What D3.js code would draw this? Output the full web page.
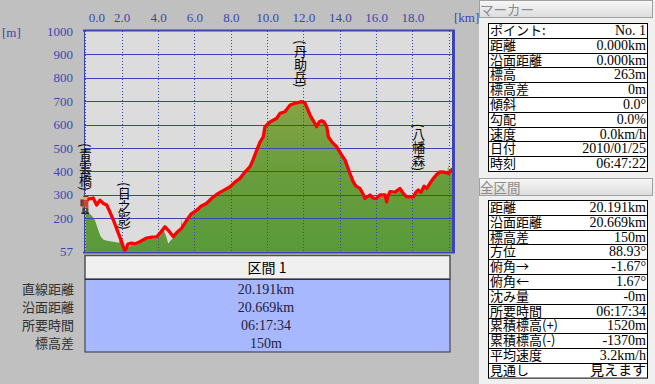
<!DOCTYPE html>
<html><head><meta charset="utf-8">
<script src="https://cdn.jsdelivr.net/npm/d3@7"></script>
<style>
html,body{margin:0;padding:0;background:#c0c0c0;}
svg{display:block;}
.num{font-family:"Liberation Serif","Noto Sans CJK JP",serif;}
.jp{font-family:"Noto Sans CJK JP","Liberation Serif",sans-serif;}
</style></head>
<body>
<svg id="c" width="655" height="384"></svg>
<script>
// ---- DATA ----
const distKm = 20.191;
const xTicks = [0,2,4,6,8,10,12,14,16,18,20];
const yTicks = [57,200,300,400,500,600,700,800,900,1000];
const gridY = [200,300,400,500,600,700,800,900];

// GPS track (red line): km, elevation m
const trackKm = [0.00,0.14,0.43,0.62,0.80,0.97,1.17,1.35,1.54,1.81,1.96,2.09,2.18,2.27,2.34,2.55,2.73,3.00,3.37,3.67,3.92,4.11,4.38,4.55,4.84,5.04,5.30,5.58,5.81,6.13,6.36,6.68,6.97,7.31,7.63,7.96,8.23,8.51,8.78,9.06,9.22,9.43,9.61,9.79,9.88,10.16,10.53,10.71,10.98,11.26,11.59,11.90,12.09,12.20,12.36,12.52,12.73,12.86,13.00,13.13,13.28,13.37,13.57,13.83,14.07,14.29,14.56,14.74,14.89,15.11,15.28,15.39,15.66,15.83,16.03,16.21,16.49,16.58,16.65,16.76,17.04,17.31,17.48,17.68,17.86,18.05,18.19,18.32,18.47,18.64,18.78,18.97,19.15,19.35,19.52,19.74,19.97,20.16,20.191];
const trackElev = [263,281,286,256,277,264,256,226,192,136,106,77,63,72,89,93,89,99,115,119,120,136,163,149,120,140,157,192,217,234,251,264,286,306,320,334,354,370,397,420,448,491,525,548,591,611,627,648,655,683,692,698,691,671,641,619,591,611,617,611,591,548,525,505,474,448,391,355,337,327,303,284,299,286,284,299,299,270,294,313,311,327,307,291,290,291,311,320,311,337,327,350,370,388,398,397,391,405,413];

// Terrain profile (green area): km, elevation m
const terrainKm = [0.00,0.15,0.35,0.50,0.62,0.75,0.85,1.00,1.20,1.45,1.70,1.85,1.93,1.98,2.10,2.25,2.40,2.55,2.75,3.00,3.35,3.70,3.95,4.15,4.30,4.45,4.56,4.70,4.84,5.05,5.25,5.30,5.35,5.58,5.81,6.13,6.36,6.68,6.97,7.31,7.63,7.96,8.23,8.51,8.78,9.06,9.22,9.43,9.61,9.79,9.88,10.16,10.53,10.71,10.98,11.26,11.59,11.90,12.09,12.20,12.36,12.52,12.73,12.86,13.00,13.13,13.28,13.37,13.57,13.83,14.07,14.29,14.56,14.74,14.89,15.11,15.28,15.39,15.66,15.83,16.03,16.21,16.49,16.58,16.65,16.76,17.04,17.31,17.48,17.68,17.86,18.05,18.19,18.32,18.47,18.64,18.78,18.97,19.15,19.35,19.52,19.74,19.90,19.97,20.02,20.191];
const terrainElev = [235,225,210,195,170,140,120,108,103,100,97,95,130,100,72,62,78,85,82,92,108,112,113,128,150,120,92,105,115,132,150,198,160,185,210,228,245,258,280,300,315,330,350,366,392,415,442,485,518,542,585,605,622,642,650,676,686,692,684,664,634,612,585,604,610,604,584,540,518,498,466,440,384,348,330,320,296,278,292,280,278,292,292,266,288,306,304,320,300,285,284,285,304,313,305,330,320,344,364,382,392,392,385,430,390,405];

// Place names (vertical labels)
const placeNames = ["(青雲橋)","(日之影)","(丹助岳)","(八幡森)"];
const placeKm = [0.0, 2.14, 11.84, 18.35];
const placeTopElev = [521, 354, 962, 605];

// Section table
const sectionTitle = "区間 1";
const sectionLabels = ["直線距離","沿面距離","所要時間","標高差"];
const sectionValues = ["20.191km","20.669km","06:17:34","150m"];

// Marker panel
const markerLabels = ["ポイント:","距離","沿面距離","標高","標高差","傾斜","勾配","速度","日付","時刻"];
const markerValues = ["No. 1","0.000km","0.000km","263m","0m","0.0°","0.0%","0.0km/h","2010/01/25","06:47:22"];
// Whole-route panel
const totalLabels = ["距離","沿面距離","標高差","方位","俯角→","俯角←","沈み量","所要時間","累積標高(+)","累積標高(-)","平均速度","見通し"];
const totalValues = ["20.191km","20.669km","150m","88.93°","-1.67°","1.67°","-0m","06:17:34","1520m","-1370m","3.2km/h","見えます"];

// ---- DRAW ----
const svg = d3.select("#c");
const blue = "#3d44b4";
const x = d3.scaleLinear().domain([0, distKm]).range([85.4, 452.3]);
const y = d3.scaleLinear().domain([57, 1000]).range([251.6, 31]);

// plot background
svg.append("rect").attr("x",84).attr("y",30).attr("width",369).attr("height",222).attr("fill","#dcdcdc");

// gradient
const defs = svg.append("defs");
const g = defs.append("linearGradient").attr("id","gr")
  .attr("gradientUnits","userSpaceOnUse").attr("y1",y(700)).attr("y2",y(57)).attr("x1",0).attr("x2",0);
g.append("stop").attr("offset",0).attr("stop-color","#86a445");
g.append("stop").attr("offset",0.45).attr("stop-color","#6a9d3d");
g.append("stop").attr("offset",1).attr("stop-color","#5a9a3a");

const terrain = terrainKm.map((k,i)=>[k,terrainElev[i]]);
const track = trackKm.map((k,i)=>[k,trackElev[i]]);

svg.append("path").datum(terrain)
  .attr("d", d3.area().x(d=>x(d[0])).y0(y(57)).y1(d=>y(d[1])))
  .attr("fill","url(#gr)");

// grid
svg.append("g").selectAll("line").data(gridY).join("line")
  .attr("x1",84).attr("x2",453).attr("y1",d=>Math.round(y(d))+0.5).attr("y2",d=>Math.round(y(d))+0.5)
  .attr("stroke",blue).attr("stroke-width",1);
svg.append("g").selectAll("line").data(xTicks).join("line")
  .attr("x1",d=>Math.round(x(d))+0.5).attr("x2",d=>Math.round(x(d))+0.5).attr("y1",31).attr("y2",252)
  .attr("stroke",blue).attr("stroke-width",1).attr("stroke-dasharray","1,2");

// track
svg.append("path").datum(track)
  .attr("d", d3.line().x(d=>x(d[0])).y(d=>y(d[1])))
  .attr("fill","none").attr("stroke","#ff0000").attr("stroke-width",3.3).attr("stroke-linejoin","round");

// borders
svg.append("line").attr("x1",83).attr("x2",455).attr("y1",30.5).attr("y2",30.5).attr("stroke",blue).attr("stroke-width",2);
svg.append("line").attr("x1",453.5).attr("x2",453.5).attr("y1",30).attr("y2",253).attr("stroke",blue).attr("stroke-width",3);
svg.append("line").attr("x1",83).attr("x2",455).attr("y1",252.5).attr("y2",252.5).attr("stroke",blue).attr("stroke-width",2);
svg.append("line").attr("x1",84.5).attr("x2",84.5).attr("y1",30).attr("y2",253).attr("stroke",blue).attr("stroke-width",1);

// axes
const xa = svg.append("g").attr("transform","translate(0,31)")
  .call(d3.axisTop(x).tickValues(xTicks).tickSize(0).tickPadding(9.5).tickFormat(d3.format(".1f")));
xa.select(".domain").remove();
xa.selectAll("text").attr("class","num").attr("font-size",13).attr("fill",blue).attr("font-family",null);
xa.selectAll(".tick").filter(d=>d===0).select("text").attr("dx",11);
xa.selectAll(".tick").filter(d=>d===20).remove();

const ya = svg.append("g").attr("transform","translate(85,0)")
  .call(d3.axisLeft(y).tickValues(yTicks).tickSize(0).tickPadding(12).tickFormat(d3.format("d")));
ya.select(".domain").remove();
ya.selectAll("text").attr("class","num").attr("font-size",13).attr("fill",blue).attr("font-family",null);

svg.append("text").attr("class","num").attr("x",454).attr("y",21.5).attr("font-size",13).attr("fill",blue).text("[km]");
svg.append("text").attr("class","num").attr("x",2).attr("y",37).attr("font-size",13).attr("fill",blue).text("[m]");

// place labels (vertical)
svg.append("g").selectAll("text").data(placeNames).join("text")
  .attr("class","jp")
  .attr("x",(d,i)=>x(placeKm[i])).attr("y",(d,i)=>y(placeTopElev[i]))
  .attr("font-size",13).attr("fill","#000")
  .style("writing-mode","vertical-rl")
  .text(d=>d);

// hiker icon at start
const hk = svg.append("g").attr("transform",`translate(${x(0)-5},${y(trackElev[0])-8})`);
hk.append("rect").attr("x",0).attr("y",4).attr("width",4).attr("height",7).attr("fill","#7a3a2a");
hk.append("circle").attr("cx",5).attr("cy",2.5).attr("r",2.3).attr("fill","#d8a878");
hk.append("rect").attr("x",3).attr("y",0).attr("width",5).attr("height",1.6).attr("fill","#803020");
hk.append("rect").attr("x",3).attr("y",5).attr("width",5).attr("height",7).attr("fill","#c04a3a");
hk.append("rect").attr("x",2).attr("y",12).attr("width",2.5).attr("height",6).attr("fill","#404040");
hk.append("rect").attr("x",5.5).attr("y",12).attr("width",2.5).attr("height",6).attr("fill","#505050");
hk.append("rect").attr("x",1).attr("y",17).attr("width",3.5).attr("height",1.6).attr("fill","#202020");
hk.append("rect").attr("x",5).attr("y",17).attr("width",3.5).attr("height",1.6).attr("fill","#202020");

// section table
svg.append("rect").attr("x",85).attr("y",255.5).attr("width",365).attr("height",23.5)
  .attr("fill","#f0f0f0").attr("stroke","#505050").attr("stroke-width",1.5);
svg.append("text").attr("class","jp").attr("x",267).attr("y",272.5).attr("text-anchor","middle")
  .attr("font-size",14).attr("fill","#000").text(sectionTitle);
svg.append("rect").attr("x",85).attr("y",279.5).attr("width",365).attr("height",72.5)
  .attr("fill","#a8b8ff").attr("stroke","#303048").attr("stroke-width",1);
const rowY = d3.scaleBand().domain(d3.range(sectionLabels.length)).range([279.5,352]);
svg.append("g").selectAll("text").data(sectionLabels).join("text")
  .attr("class","jp").attr("x",74).attr("y",(d,i)=>rowY(i)+rowY.bandwidth()/2+5)
  .attr("text-anchor","end").attr("font-size",13).attr("fill","#303030").text(d=>d);
svg.append("g").selectAll("text").data(sectionValues).join("text")
  .attr("class","num").attr("x",266).attr("y",(d,i)=>rowY(i)+rowY.bandwidth()/2+5)
  .attr("text-anchor","middle").attr("font-size",14).attr("fill","#202040").text(d=>d);

// right panel
svg.append("rect").attr("x",479).attr("y",0).attr("width",176).attr("height",384).attr("fill","#f0f0f0");
function header(yTop, label){
  const hg = defs.append("linearGradient").attr("id","h"+yTop).attr("x1",0).attr("x2",0).attr("y1",0).attr("y2",1);
  hg.append("stop").attr("offset",0).attr("stop-color","#f8f8f8");
  hg.append("stop").attr("offset",1).attr("stop-color","#dcdcdc");
  svg.append("rect").attr("x",479.5).attr("y",yTop+0.5).attr("width",173).attr("height",17)
    .attr("fill",`url(#h${yTop})`).attr("stroke","#a0a0a0");
  svg.append("text").attr("class","jp").attr("x",480).attr("y",yTop+15).attr("font-size",13.5)
    .attr("fill","#8c8c8c").text(label);
}
function table(yTop, labels, values){
  const rh = 14.8;
  const tb = svg.append("g");
  tb.append("rect").attr("x",488.5).attr("y",yTop+0.5).attr("width",159).attr("height",rh*labels.length)
    .attr("fill","#fff").attr("stroke","#000");
  tb.selectAll("line").data(d3.range(1,labels.length)).join("line")
    .attr("x1",488.5).attr("x2",647.5).attr("y1",i=>Math.round(yTop+i*rh)+0.5).attr("y2",i=>Math.round(yTop+i*rh)+0.5)
    .attr("stroke","#000");
  tb.append("g").selectAll("text").data(labels).join("text").attr("class","jp")
    .attr("x",490).attr("y",(d,i)=>yTop+i*rh+12).attr("font-size",13).attr("fill","#000").text(d=>d);
  tb.append("g").selectAll("text").data(values).join("text").attr("class","num")
    .attr("x",646).attr("y",(d,i)=>yTop+i*rh+12).attr("text-anchor","end").attr("font-size",14).attr("fill","#000").text(d=>d);
}
header(0, "マーカー");
table(23, markerLabels, markerValues);
header(178, "全区間");
table(200, totalLabels, totalValues);
</script>
</body></html>
